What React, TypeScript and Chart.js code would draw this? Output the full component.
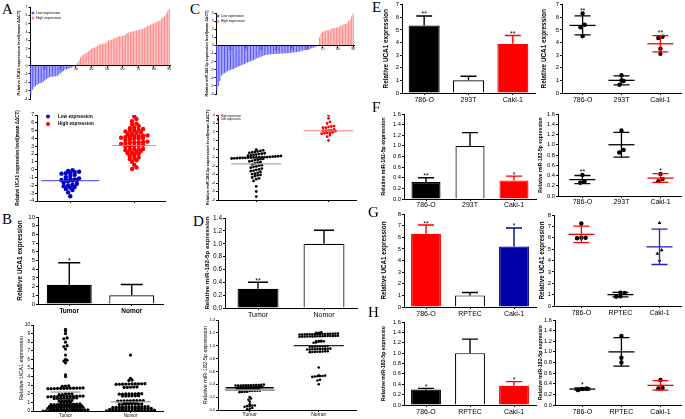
import React, { useEffect, useRef } from 'react';
import { Chart, registerables } from 'chart.js';
Chart.register(...registerables);

const FONT = "'Liberation Sans', Arial, Helvetica, sans-serif";
const SERIF = "'Liberation Serif', 'Times New Roman', serif";

// ---------------- DATA ----------------
// Panel A – UCA1 ΔΔCT per sample
const aLow = [-3.4, -2.9, -2.6, -2.45, -2.3, -2.2, -2.1, -2.05, -1.95, -1.8, -1.65, -1.5, -1.4, -1.35, -1.32, -1.3, -1.28, -1.25, -1.1, -0.95, -0.8, -0.65, -0.5, -0.45, -0.4, -0.3, -0.25, -0.15, -0.05];
const aHigh = [0.1, 0.3, 0.6, 1.0, 1.2, 1.35, 1.45, 1.55, 1.7, 1.85, 2.0, 2.1, 2.15, 2.25, 2.4, 2.5, 2.55, 2.6, 2.6, 2.65, 2.9, 3.0, 3.05, 3.1, 3.2, 3.3, 3.35, 3.45, 3.5, 3.5, 3.55, 3.6, 3.75, 3.9, 3.95, 4.0, 4.05, 4.1, 4.15, 4.2, 4.25, 4.3, 4.35, 4.4, 4.5, 4.6, 4.7, 4.8, 4.9, 5.0, 5.05, 5.1, 5.2, 5.3, 5.4, 5.6, 5.8, 5.9, 6.2, 6.5, 6.8];
const aMeans = [-1.4, 3.1];
const aTitle = 'Relative UCA1 expression level(mean ΔΔCT)';
const legendLabels = ['Low expression', 'High expression'];

// Panel B – UCA1 tumor vs normal
const bCats = ['Tumor', 'Nomor'];
const bMeans = [2.2, 1.0];
const bErr = [2.55, 1.25];
const bStars = ['*', ''];
const bTumor = [9.5, 9.3, 9.0, 8.5, 8.4, 8.0, 7.6, 7.5, 7.2, 6.5, 6.0, 5.9, 5.8, 5.6, 4.2, 4.0,
  2.92, 2.9, 2.88,
  2.68, 2.67, 2.66, 2.65, 2.65, 2.64, 2.63, 2.62, 2.62, 2.61, 2.6, 2.6,
  2.02, 2.0, 1.98, 1.92, 1.9,
  1.74, 1.73, 1.72, 1.71, 1.7, 1.7, 1.69, 1.68, 1.68, 1.67, 1.66, 1.65,
  1.52, 1.5, 1.5, 1.49, 1.48, 1.47, 1.46, 1.45,
  1.22, 1.2, 1.19, 1.18, 1.17,
  1.02, 1.0, 0.99, 0.98,
  0.82, 0.81, 0.8, 0.8, 0.79, 0.78, 0.77, 0.76, 0.75, 0.74,
  0.62, 0.61, 0.6, 0.6, 0.59, 0.58, 0.57, 0.56, 0.55, 0.54, 0.53,
  0.42, 0.41, 0.4, 0.4, 0.39, 0.38, 0.37, 0.36, 0.35, 0.34, 0.33, 0.32,
  0.22, 0.21, 0.2, 0.2, 0.19, 0.18, 0.17, 0.16, 0.15, 0.14, 0.13, 0.12, 0.11,
  0.06, 0.05, 0.05, 0.04, 0.04, 0.03, 0.03, 0.02, 0.02, 0.01, 0.01, 0.0];
const bNomor = [6.5, 3.8, 3.6, 3.55,
  3.18, 3.17, 3.16, 3.15, 3.15, 3.14, 3.13, 3.12, 3.11, 3.1,
  2.8, 2.78, 2.76, 2.75, 2.74,
  2.02, 2.01, 2.0, 2.0, 1.99, 1.98, 1.97, 1.96,
  1.78, 1.77, 1.76, 1.75, 1.74, 1.73,
  1.22, 1.21, 1.2, 1.2, 1.19, 1.18, 1.17, 1.16, 1.15,
  1.0, 0.99, 0.98, 0.97, 0.96,
  0.82, 0.81, 0.8, 0.8, 0.79, 0.78, 0.77, 0.76,
  0.52, 0.51, 0.5, 0.5, 0.49, 0.48, 0.47, 0.46, 0.45, 0.44, 0.43, 0.42,
  0.32, 0.31, 0.3, 0.3, 0.29, 0.28, 0.27, 0.26, 0.25, 0.24, 0.23, 0.22, 0.21, 0.2,
  0.1, 0.09, 0.09, 0.08, 0.08, 0.07, 0.07, 0.06, 0.06, 0.05, 0.05, 0.04, 0.04, 0.03, 0.02, 0.01];
const bDotMeans = [2.2, 1.05];

// Panel C – miR-182-5p ΔΔCT per sample
const cLow = [-5.6, -5.0, -4.4, -3.75, -3.55, -3.45, -3.35, -3.2, -3.1, -3.05, -2.95, -2.9, -2.8, -2.7, -2.6, -2.55, -2.45, -2.4, -2.3, -2.2, -2.1, -2.05, -1.95, -1.9, -1.8, -1.7, -1.6, -1.55, -1.45, -1.4, -1.3, -1.25, -1.2, -1.15, -1.12, -1.1, -1.08, -1.06, -1.05, -1.04, -1.02, -1.0, -1.0, -0.99, -0.98, -0.97, -0.96, -0.95, -0.93, -0.9, -0.88, -0.85, -0.82, -0.78, -0.75, -0.7, -0.65, -0.6, -0.55, -0.5, -0.45, -0.4, -0.35, -0.3, -0.22, -0.15, -0.08];
const cHigh = [1.0, 1.45, 1.65, 1.8, 1.85, 1.9, 1.9, 1.95, 2.1, 2.15, 2.15, 2.2, 2.2, 2.3, 2.5, 2.5, 2.6, 2.65, 2.7, 3.0, 3.2, 3.6, 3.95];
const cMeans = [-1.75, 2.15];
const cTitle = 'Relative miR-182-5p expression level(mean ΔΔCT)';

// Panel D – miR-182-5p tumor vs normal
const dCats = ['Tumor', 'Nomor'];
const dMeans = [0.3, 1.0];
const dErr = [0.1, 0.21];
const dStars = ['**', ''];
const dTumor = [0.395, 0.392, 0.39, 0.39, 0.388, 0.386, 0.385, 0.384, 0.383, 0.382, 0.381, 0.38,
  0.365, 0.363, 0.362, 0.36, 0.36, 0.359, 0.358, 0.357, 0.356, 0.355, 0.354, 0.353, 0.352, 0.351,
  0.335, 0.334, 0.333, 0.332, 0.331, 0.33, 0.33, 0.329, 0.328, 0.327, 0.326, 0.325, 0.324, 0.323,
  0.305, 0.302, 0.3, 0.3, 0.298, 0.295, 0.285, 0.282, 0.28, 0.278,
  0.2, 0.18, 0.16, 0.13, 0.09, 0.07, 0.07, 0.06, 0.06, 0.05, 0.03, 0.02, 0.01];
const dNomor = [1.21, 1.2, 1.2,
  1.19, 1.188, 1.186, 1.185, 1.184, 1.183, 1.182, 1.181, 1.18, 1.18, 1.179, 1.178, 1.177, 1.176, 1.175, 1.174,
  1.155, 1.153, 1.152, 1.151, 1.15, 1.15, 1.149, 1.148, 1.147, 1.146, 1.145, 1.144, 1.143, 1.142, 1.141, 1.14,
  1.075, 1.072, 1.07, 1.068, 1.066, 1.064, 1.05, 1.045,
  0.995, 0.993, 0.99, 0.99, 0.988, 0.986, 0.984, 0.982,
  0.955, 0.953, 0.951, 0.95, 0.95, 0.948, 0.946, 0.944, 0.942, 0.94,
  0.915, 0.912, 0.91, 0.908, 0.906, 0.904, 0.902, 0.9,
  0.66, 0.54, 0.535, 0.53, 0.53, 0.525, 0.52, 0.515, 0.47, 0.46, 0.4];
const dDotMeans = [0.31, 1.0];
const dTumorBand = [0.345];

// Panel E – UCA1 in cell lines
const eCats = ['786-O', '293T', 'Caki-1'];
const eMeans = [5.35, 1.0, 3.9];
const eErr = [0.75, 0.33, 0.65];
const eStars = ['**', '', '**'];
const e786 = [6.3, 5.4, 5.2, 4.5];
const e293 = [1.4, 1.0, 0.95, 0.65];
const eCaki = [4.45, 4.35, 3.5, 3.1];
const eDotMeans = [5.35, 1.0, 3.9];
const eDotSd = [0.75, 0.35, 0.65];

// Panel F – miR-182-5p in cell lines
const fCats = ['786-O', '293T', 'Caki-1'];
const fMeans = [0.32, 1.0, 0.35];
const fErr = [0.08, 0.25, 0.08];
const fStars = ['**', '', '*'];
const f786 = [0.41, 0.29, 0.26];
const f293 = [1.28, 0.9, 0.85];
const fCaki = [0.43, 0.33, 0.29];
const fDotMeans = [0.32, 1.0, 0.35];
const fDotSd = [0.08, 0.24, 0.085];

// Panel G – UCA1 vs RPTEC
const gCats = ['786-O', 'RPTEC', 'Caki-1'];
const gMeans = [6.3, 1.0, 5.2];
const gErr = [0.75, 0.25, 1.6];
const gStars = ['**', '', '*'];
const g786 = [7.25, 6.0, 6.0, 5.95];
const gRptec = [1.18, 1.15, 0.85, 0.82];
const gCaki = [7.3, 4.9, 4.6, 4.0];
const gDotMeans = [6.3, 1.0, 5.2];
const gDotSd = [0.72, 0.2, 1.55];

// Panel H – miR-182-5p vs RPTEC
const hCats = ['786-O', 'RPTEC', 'Caki-1'];
const hMeans = [0.3, 1.0, 0.37];
const hErr = [0.02, 0.27, 0.08];
const hStars = ['*', '', '*'];
const h786 = [0.31, 0.3, 0.28];
const hRptec = [1.3, 0.89, 0.8];
const hCaki = [0.47, 0.32, 0.31];
const hDotMeans = [0.3, 1.0, 0.37];
const hDotSd = [0.02, 0.27, 0.09];

const uTitle = 'Relative UCA1 expression';
const mTitle = 'Relative miR-182-5p expression';

// ---------------- HELPERS ----------------
const BLACK = '#000000';
const RED = '#ff0000';
const DBLUE = '#0000a8';
const BLUEBAR = 'rgba(80,80,255,0.95)';
const REDBAR = 'rgba(255,130,130,0.95)';

function swarm(vals: number[], center: number, binH: number, step: number, maxHalf: number) {
  const order = vals.map((_, i) => i).sort((a, b) => vals[a] - vals[b]);
  const bins: number[][] = [];
  let cur: number[] = [];
  let start = 0;
  for (const i of order) {
    if (!cur.length || vals[i] - start > binH) {
      if (cur.length) bins.push(cur);
      cur = [i];
      start = vals[i];
    } else cur.push(i);
  }
  if (cur.length) bins.push(cur);
  const pts: any[] = new Array(vals.length);
  for (const b of bins) {
    const n = b.length;
    const s = n > 1 ? Math.min(step, (2 * maxHalf) / (n - 1)) : 0;
    b.forEach((i, k) => { pts[i] = { x: center + (k - (n - 1) / 2) * s, y: vals[i] }; });
  }
  return pts;
}

const overlay = {
  id: 'overlay',
  afterDatasetsDraw(chart: any, _a: any, o: any) {
    if (!o) return;
    const ctx = chart.ctx;
    const xs = chart.scales.x;
    const ys = chart.scales.y;
    ctx.save();
    for (const w of o.whiskers || []) {
      const px = xs.getPixelForValue(w.x);
      const top = ys.getPixelForValue(w.hi);
      const bot = ys.getPixelForValue(w.lo);
      ctx.strokeStyle = w.color;
      ctx.lineWidth = w.lw;
      ctx.beginPath();
      ctx.moveTo(px, bot); ctx.lineTo(px, top);
      ctx.moveTo(px - w.cap, top); ctx.lineTo(px + w.cap, top);
      if (w.both) { ctx.moveTo(px - w.cap, bot); ctx.lineTo(px + w.cap, bot); }
      ctx.stroke();
    }
    for (const h of o.hlines || []) {
      const px = xs.getPixelForValue(h.x);
      const py = ys.getPixelForValue(h.y);
      ctx.strokeStyle = h.color;
      ctx.lineWidth = h.lw;
      ctx.beginPath();
      ctx.moveTo(px - h.half, py); ctx.lineTo(px + h.half, py);
      ctx.stroke();
    }
    for (const s of o.stars || []) {
      if (!s.text) continue;
      ctx.fillStyle = '#000';
      ctx.font = `${s.size}px ${FONT}`;
      ctx.textAlign = 'center';
      ctx.textBaseline = 'alphabetic';
      ctx.fillText(s.text, xs.getPixelForValue(s.x), ys.getPixelForValue(s.y) + 0.43 * s.size - 1 - (s.lift || 0));
    }
    if (o.legend) {
      const L = o.legend;
      const ca = chart.chartArea;
      L.items.forEach((it: any, k: number) => {
        const cx = ca.left + L.dx;
        const cy = ca.top + L.dy + k * L.rowGap;
        ctx.fillStyle = it.color;
        if (it.shape === 'circle') {
          ctx.beginPath(); ctx.arc(cx, cy, L.box / 2, 0, Math.PI * 2); ctx.fill();
        } else ctx.fillRect(cx - L.box / 2, cy - L.box / 2, L.box, L.box);
        ctx.fillStyle = '#000';
        ctx.font = `${L.bold ? 'bold ' : ''}${L.size}px ${FONT}`;
        ctx.textAlign = 'left';
        ctx.textBaseline = 'middle';
        ctx.fillText(it.text, cx + L.textDx, cy);
      });
    }
    ctx.restore();
  },
};

type Geom = { left: number; top: number; width: number; height: number; yW: number; xH: number; pt: number; pr: number; pb?: number };

function yAxis(g: Geom, o: any) {
  return {
    type: 'linear',
    min: o.min, max: o.max,
    ticks: {
      stepSize: o.step, autoSkip: false, color: '#000', padding: 1,
      font: { family: FONT, size: o.tick },
      callback: (v: any) => (o.dec ? Number(v).toFixed(o.dec) : String(Math.round(Number(v)))),
    },
    grid: { drawOnChartArea: false, drawTicks: true, tickLength: o.tl ?? 2, color: '#000', lineWidth: 1 },
    border: { display: true, color: '#000', width: 1 },
    title: {
      display: true, text: o.title, color: '#000', padding: { top: 0, bottom: 0 },
      font: { family: FONT, size: o.titleSize, weight: o.bold ? 'bold' : 'normal' },
    },
    afterFit: (s: any) => { s.width = g.yW; },
  };
}

function base(g: Geom, scales: any, ov: any) {
  return {
    responsive: false,
    animation: false,
    events: [],
    layout: { padding: { top: g.pt, right: g.pr, left: 0, bottom: g.pb ?? 0 } },
    plugins: { legend: { display: false }, tooltip: { enabled: false }, overlay: ov },
    scales,
  };
}

function makeWaterfall(g: Geom, low: number[], high: number[], y: any, legend: any) {
  const n = low.length + high.length;
  const labels = Array.from({ length: n }, (_, i) => String(i + 1));
  const lowData = labels.map((_, i) => (i < low.length ? low[i] : null));
  const highData = labels.map((_, i) => (i >= low.length ? high[i - low.length] : null));
  return {
    type: 'bar',
    data: {
      labels,
      datasets: [
        { label: legendLabels[0], data: lowData, backgroundColor: BLUEBAR, grouped: false, barPercentage: 0.72, categoryPercentage: 1 },
        { label: legendLabels[1], data: highData, backgroundColor: REDBAR, grouped: false, barPercentage: 0.72, categoryPercentage: 1 },
      ],
    },
    options: base(g, {
      x: {
        type: 'category',
        position: { y: 0 },
        offset: true,
        ticks: {
          autoSkip: false, maxRotation: 0, minRotation: 0, padding: 0, color: '#000',
          font: { family: FONT, size: 3.5 },
          callback: (_v: any, i: number) => ((i + 1) % 10 === 0 ? String(i + 1) : ''),
        },
        grid: {
          drawOnChartArea: false, drawTicks: true, tickLength: 1.5, offset: false,
          color: (c: any) => ((c.index + 1) % 10 === 0 ? '#000' : 'rgba(0,0,0,0)'),
        },
        border: { display: true, color: '#000', width: 1 },
      },
      y: yAxis(g, y),
    }, { legend }),
    plugins: [overlay],
  };
}

function makeBar(g: Geom, p: any) {
  const borders = p.fills.map((f: string) => (f === '#ffffff' ? '#000' : f));
  return {
    type: 'bar',
    data: {
      labels: p.cats,
      datasets: [{ data: p.means, backgroundColor: p.fills, borderColor: borders, borderWidth: 1.2, barPercentage: p.barPct, categoryPercentage: 1 }],
    },
    options: base(g, {
      x: {
        type: 'category',
        offset: true,
        ticks: { autoSkip: false, maxRotation: 0, minRotation: 0, padding: p.catPad ?? 1, color: '#000', font: { family: FONT, size: p.catSize, weight: p.catBold ? 'bold' : 'normal' } },
        grid: { drawOnChartArea: false, drawTicks: true, tickLength: 2, offset: false, color: '#000' },
        border: { display: true, color: '#000', width: 1 },
        afterFit: (s: any) => { s.height = g.xH; },
      },
      y: yAxis(g, p.y),
    }, {
      whiskers: p.means.map((m: number, i: number) => ({ x: i, lo: m, hi: m + p.errs[i], color: p.errColors[i], lw: 1.4, cap: p.cap })),
      stars: p.stars.map((t: string, i: number) => ({ x: i, y: p.means[i] + p.errs[i], text: t, size: p.starSize, lift: 1.5 })),
    }),
    plugins: [overlay],
  };
}

function makeDot(g: Geom, p: any) {
  const areaW = g.width - g.yW - g.pr;
  const areaH = g.height - g.pt - g.xH;
  const pxX = areaW / (p.xmax - p.xmin);
  const pxY = areaH / (p.y.max - p.y.min);
  const datasets = p.groups.map((gr: any, i: number) => ({
    type: 'scatter',
    data: swarm(gr.vals, i + 1, p.binPx / pxY, (p.r * 2 * (p.spread ?? 1)) / pxX, p.maxHalfPx / pxX),
    backgroundColor: gr.color, borderColor: gr.color, borderWidth: 0,
    pointRadius: p.r, pointStyle: gr.style || 'circle',
  }));
  const hlines = p.groups.map((gr: any, i: number) => ({ x: i + 1, y: gr.mean, color: gr.line, half: gr.half ?? p.meanHalf, lw: gr.lw ?? p.lw }));
  const whiskers = p.groups.filter((gr: any) => gr.sd !== undefined).map((gr: any) => ({
    x: p.groups.indexOf(gr) + 1, lo: gr.mean - gr.sd, hi: gr.mean + gr.sd, color: gr.line, lw: p.lw, cap: p.capHalf, both: true,
  }));
  const stars = p.groups.map((gr: any, i: number) => ({
    x: i + 1, y: Math.max(...gr.vals, gr.mean + (gr.sd ?? 0)), text: gr.star || '', size: p.starSize ?? 6, lift: p.r + 0.5,
  }));
  return {
    type: 'scatter',
    data: { datasets },
    options: base(g, {
      x: {
        type: 'linear', min: p.xmin, max: p.xmax,
        afterBuildTicks: (axis: any) => { axis.ticks = p.cats.map((_: any, i: number) => ({ value: i + 1 })); },
        ticks: { autoSkip: false, maxRotation: 0, minRotation: 0, padding: p.catPad ?? 1, color: '#000', font: { family: FONT, size: p.catSize }, callback: (v: any) => p.cats[Math.round(Number(v)) - 1] ?? '' },
        grid: { drawOnChartArea: false, drawTicks: true, tickLength: 2, color: '#000' },
        border: { display: true, color: '#000', width: 1 },
        afterFit: (s: any) => { s.height = g.xH; },
      },
      y: yAxis(g, p.y),
    }, { hlines: hlines.concat(p.extraLines || []), whiskers, stars, legend: p.legend }),
    plugins: [overlay],
  };
}

// ---------------- PANELS ----------------
const gAwf: Geom = { left: 16, top: 0, width: 160, height: 104, yW: 14, xH: 0, pt: 7, pr: 6, pb: 5 };
const gAsc: Geom = { left: 15, top: 106, width: 155, height: 102, yW: 22, xH: 7, pt: 9, pr: 5 };
const gBbar: Geom = { left: 16, top: 208, width: 152, height: 110, yW: 22, xH: 14, pt: 9, pr: 5 };
const gBdot: Geom = { left: 18, top: 318, width: 150, height: 101, yW: 15, xH: 8, pt: 7, pr: 5 };
const gCwf: Geom = { left: 205, top: 0, width: 155, height: 100, yW: 11, xH: 0, pt: 13, pr: 6, pb: 6 };
const gCsc: Geom = { left: 205, top: 106, width: 155, height: 102, yW: 13, xH: 8, pt: 9, pr: 2 };
const gDbar: Geom = { left: 204, top: 208, width: 156, height: 110, yW: 21, xH: 10, pt: 10, pr: 3 };
const gDdot: Geom = { left: 202, top: 316, width: 158, height: 103, yW: 16, xH: 9, pt: 4, pr: 2 };
const gEbar: Geom = { left: 382, top: 0, width: 156, height: 102, yW: 20, xH: 9, pt: 4, pr: 3 };
const gEdot: Geom = { left: 540, top: 0, width: 145, height: 104, yW: 22, xH: 11, pt: 4, pr: 1 };
const gFbar: Geom = { left: 380, top: 104, width: 158, height: 106, yW: 24, xH: 11, pt: 10, pr: 2 };
const gFdot: Geom = { left: 538, top: 104, width: 147, height: 104, yW: 20, xH: 12, pt: 10, pr: 1 };
const gGbar: Geom = { left: 380, top: 204, width: 158, height: 115, yW: 24, xH: 12, pt: 10, pr: 2 };
const gGdot: Geom = { left: 538, top: 204, width: 147, height: 115, yW: 16, xH: 13, pt: 11, pr: 1 };
const gHbar: Geom = { left: 380, top: 312, width: 158, height: 107, yW: 24, xH: 14, pt: 10, pr: 2 };
const gHdot: Geom = { left: 537, top: 312, width: 148, height: 107, yW: 18, xH: 14, pt: 8, pr: 1 };

const cellDot = { r: 2.2, binPx: 4, maxHalfPx: 9, meanHalf: 13, capHalf: 8, lw: 1.3, catSize: 7, catPad: 1, starSize: 7 };

const panels: { g: Geom; make: () => any }[] = [
  { g: gAwf, make: () => makeWaterfall(gAwf, aLow, aHigh, { min: -4, max: 7, step: 1, tick: 3.5, tl: 1.5, title: aTitle, titleSize: 4, bold: true },
    { dx: 3, dy: 6, rowGap: 5, box: 2.5, size: 3.5, textDx: 3, items: [{ text: legendLabels[0], color: BLUEBAR }, { text: legendLabels[1], color: REDBAR }] }) },
  { g: gAsc, make: () => makeDot(gAsc, {
    cats: ['', ''], xmin: 0.48, xmax: 2.48, r: 2.2, binPx: 2.4, maxHalfPx: 28, lw: 1.2, meanHalf: 26, catSize: 4,
    y: { min: -4, max: 7, step: 1, tick: 5, title: aTitle, titleSize: 4.5, bold: true },
    groups: [
      { vals: aLow, color: '#0000cc', line: 'rgba(60,60,220,0.8)', mean: aMeans[0], half: 29 },
      { vals: aHigh, color: RED, line: 'rgba(255,120,120,0.9)', mean: aMeans[1], half: 22 },
    ],
    legend: { dx: 11, dy: 1.5, rowGap: 7.5, box: 4, size: 4.6, bold: true, textDx: 10, items: [{ text: legendLabels[0], color: '#0000cc', shape: 'circle' }, { text: legendLabels[1], color: RED, shape: 'circle' }] },
  }) },
  { g: gBbar, make: () => makeBar(gBbar, {
    cats: bCats, means: bMeans, errs: bErr, fills: ['#000000', '#ffffff'], errColors: [BLACK, BLACK], stars: bStars,
    barPct: 0.72, cap: 11, starSize: 7, catSize: 6.5, catBold: true,
    y: { min: 0, max: 10, step: 1, tick: 6, title: uTitle, titleSize: 6.5, bold: true },
  }) },
  { g: gBdot, make: () => makeDot(gBdot, {
    cats: bCats, xmin: 0.5, xmax: 2.5, r: 1.6, binPx: 1.2, maxHalfPx: 26, lw: 1.2, meanHalf: 17, catSize: 4.5, catPad: 0,
    y: { min: 0, max: 10, step: 1, tick: 4.5, title: uTitle, titleSize: 5.5, bold: false },
    groups: [
      { vals: bTumor, color: BLACK, line: '#999999', mean: bDotMeans[0], half: 15 },
      { vals: bNomor, color: BLACK, line: '#999999', mean: bDotMeans[1], half: 20 },
    ],
  }) },
  { g: gCwf, make: () => makeWaterfall(gCwf, cLow, cHigh, { min: -6, max: 4, step: 1, tick: 3.3, tl: 1.5, title: cTitle, titleSize: 3.6, bold: true },
    { dx: 2, dy: 3, rowGap: 5.5, box: 2.5, size: 3.3, textDx: 3, items: [{ text: legendLabels[0], color: BLUEBAR }, { text: legendLabels[1], color: REDBAR }] }) },
  { g: gCsc, make: () => makeDot(gCsc, {
    cats: ['', ''], xmin: 0.47, xmax: 2.38, r: 1.4, binPx: 2.6, maxHalfPx: 25, lw: 1.2, meanHalf: 25, catSize: 4,
    y: { min: -6, max: 4, step: 1, tick: 3.5, title: cTitle, titleSize: 4, bold: true },
    groups: [
      { vals: cLow, color: BLACK, line: '#aaaaaa', mean: cMeans[0] },
      { vals: cHigh, color: RED, line: 'rgba(255,120,120,0.9)', mean: cMeans[1] },
    ],
    legend: { dx: 0, dy: 1, rowGap: 3.5, box: 2, size: 2.8, textDx: 3, items: [{ text: legendLabels[1], color: RED }, { text: legendLabels[0], color: BLACK }] },
  }) },
  { g: gDbar, make: () => makeBar(gDbar, {
    cats: dCats, means: dMeans, errs: dErr, fills: ['#000000', '#ffffff'], errColors: [BLACK, BLACK], stars: dStars,
    barPct: 0.62, cap: 10, starSize: 7, catSize: 7, catBold: false,
    y: { min: 0, max: 1.4, step: 0.2, dec: 1, tick: 6.5, title: mTitle, titleSize: 6.2, bold: true },
  }) },
  { g: gDdot, make: () => makeDot(gDdot, {
    cats: dCats, xmin: 0.54, xmax: 2.54, r: 1.3, binPx: 1.6, maxHalfPx: 26, lw: 1.2, meanHalf: 25, catSize: 5, catPad: 0,
    y: { min: 0, max: 1.4, step: 0.2, dec: 1, tick: 4, title: mTitle, titleSize: 5.5, bold: false },
    groups: [
      { vals: dTumor, color: BLACK, line: '#999999', mean: dDotMeans[0], lw: 1.8 },
      { vals: dNomor, color: BLACK, line: '#222222', mean: dDotMeans[1] },
    ],
    extraLines: dTumorBand.map((v) => ({ x: 1, y: v, color: '#000', half: 24, lw: 1.4 })),
  }) },
  { g: gEbar, make: () => makeBar(gEbar, {
    cats: eCats, means: eMeans, errs: eErr, fills: ['#000000', '#ffffff', RED], errColors: [BLACK, BLACK, RED], stars: eStars,
    barPct: 0.7, cap: 8, starSize: 7, catSize: 7,
    y: { min: 0, max: 7, step: 1, tick: 6, title: uTitle, titleSize: 6.4, bold: true },
  }) },
  { g: gEdot, make: () => makeDot(gEdot, {
    ...cellDot, cats: eCats, xmin: 0.47, xmax: 3.53, binPx: 4,
    y: { min: 0, max: 7, step: 1, tick: 6, title: uTitle, titleSize: 6.4, bold: true },
    groups: [
      { vals: e786, color: BLACK, line: BLACK, mean: eDotMeans[0], sd: eDotSd[0], star: '**' },
      { vals: e293, color: BLACK, line: BLACK, mean: eDotMeans[1], sd: eDotSd[1] },
      { vals: eCaki, color: BLACK, line: RED, mean: eDotMeans[2], sd: eDotSd[2], star: '**' },
    ],
  }) },
  { g: gFbar, make: () => makeBar(gFbar, {
    cats: fCats, means: fMeans, errs: fErr, fills: ['#000000', '#ffffff', RED], errColors: [BLACK, BLACK, RED], stars: fStars,
    barPct: 0.66, cap: 8, starSize: 7, catSize: 7, catPad: 0,
    y: { min: 0, max: 1.6, step: 0.2, dec: 1, tick: 5.8, title: mTitle, titleSize: 5.2, bold: true },
  }) },
  { g: gFdot, make: () => makeDot(gFdot, {
    ...cellDot, cats: fCats, xmin: 0.375, xmax: 3.525, binPx: 4, catPad: 0,
    y: { min: 0, max: 1.6, step: 0.2, dec: 1, tick: 5.8, title: mTitle, titleSize: 5, bold: true },
    groups: [
      { vals: f786, color: BLACK, line: BLACK, mean: fDotMeans[0], sd: fDotSd[0], star: '**' },
      { vals: f293, color: BLACK, line: BLACK, mean: fDotMeans[1], sd: fDotSd[1] },
      { vals: fCaki, color: BLACK, line: RED, mean: fDotMeans[2], sd: fDotSd[2], star: '*' },
    ],
  }) },
  { g: gGbar, make: () => makeBar(gGbar, {
    cats: gCats, means: gMeans, errs: gErr, fills: [RED, '#ffffff', DBLUE], errColors: [RED, BLACK, DBLUE], stars: gStars,
    barPct: 0.68, cap: 8, starSize: 7, catSize: 7,
    y: { min: 0, max: 8, step: 1, tick: 6, title: uTitle, titleSize: 6.3, bold: true },
  }) },
  { g: gGdot, make: () => makeDot(gGdot, {
    ...cellDot, cats: gCats, xmin: 0.3, xmax: 3.55, binPx: 4,
    y: { min: 0, max: 8, step: 1, tick: 6, title: uTitle, titleSize: 6.3, bold: true },
    groups: [
      { vals: g786, color: BLACK, line: RED, mean: gDotMeans[0], sd: gDotSd[0] },
      { vals: gRptec, color: BLACK, line: BLACK, mean: gDotMeans[1], sd: gDotSd[1] },
      { vals: gCaki, color: BLACK, line: '#2020c8', mean: gDotMeans[2], sd: gDotSd[2], style: 'triangle' },
    ],
  }) },
  { g: gHbar, make: () => makeBar(gHbar, {
    cats: hCats, means: hMeans, errs: hErr, fills: ['#000000', '#ffffff', RED], errColors: [BLACK, BLACK, RED], stars: hStars,
    barPct: 0.68, cap: 8, starSize: 7, catSize: 7,
    y: { min: 0, max: 1.6, step: 0.2, dec: 1, tick: 5.8, title: 'Relative miR-182-5p expressio', titleSize: 5.2, bold: true },
  }) },
  { g: gHdot, make: () => makeDot(gHdot, {
    ...cellDot, cats: hCats, xmin: 0.3, xmax: 3.525, binPx: 4,
    y: { min: 0, max: 1.6, step: 0.2, dec: 1, tick: 5.8, title: 'Relative miR-182-5p expressio', titleSize: 5.2, bold: true },
    groups: [
      { vals: h786, color: BLACK, line: BLACK, mean: hDotMeans[0], sd: hDotSd[0], star: '*' },
      { vals: hRptec, color: BLACK, line: BLACK, mean: hDotMeans[1], sd: hDotSd[1] },
      { vals: hCaki, color: BLACK, line: RED, mean: hDotMeans[2], sd: hDotSd[2] },
    ],
  }) },
];

const letters: { t: string; left: number; top: number }[] = [
  { t: 'A', left: 2, top: 2 },
  { t: 'B', left: 2, top: 212 },
  { t: 'C', left: 190, top: 2 },
  { t: 'D', left: 193, top: 214 },
  { t: 'E', left: 372, top: 0 },
  { t: 'F', left: 372, top: 100 },
  { t: 'G', left: 368, top: 205 },
  { t: 'H', left: 368, top: 305 },
];

function ChartPanel({ g, make }: { g: Geom; make: () => any }) {
  const ref = useRef<HTMLCanvasElement>(null);
  useEffect(() => {
    const chart = new Chart(ref.current as HTMLCanvasElement, make());
    return () => chart.destroy();
  }, []);
  return (
    <canvas
      ref={ref}
      width={g.width}
      height={g.height}
      style={{ position: 'absolute', left: g.left, top: g.top, width: g.width, height: g.height }}
    />
  );
}

export default function App() {
  return (
    <div style={{ position: 'fixed', left: 0, top: 0, width: 685, height: 419, background: '#fff', overflow: 'hidden' }}>
      {panels.map((p, i) => <ChartPanel key={i} g={p.g} make={p.make} />)}
      {letters.map((l) => (
        <div key={l.t} style={{ position: 'absolute', left: l.left, top: l.top, fontFamily: SERIF, fontSize: 15, lineHeight: '15px', color: '#000' }}>{l.t}</div>
      ))}
    </div>
  );
}
